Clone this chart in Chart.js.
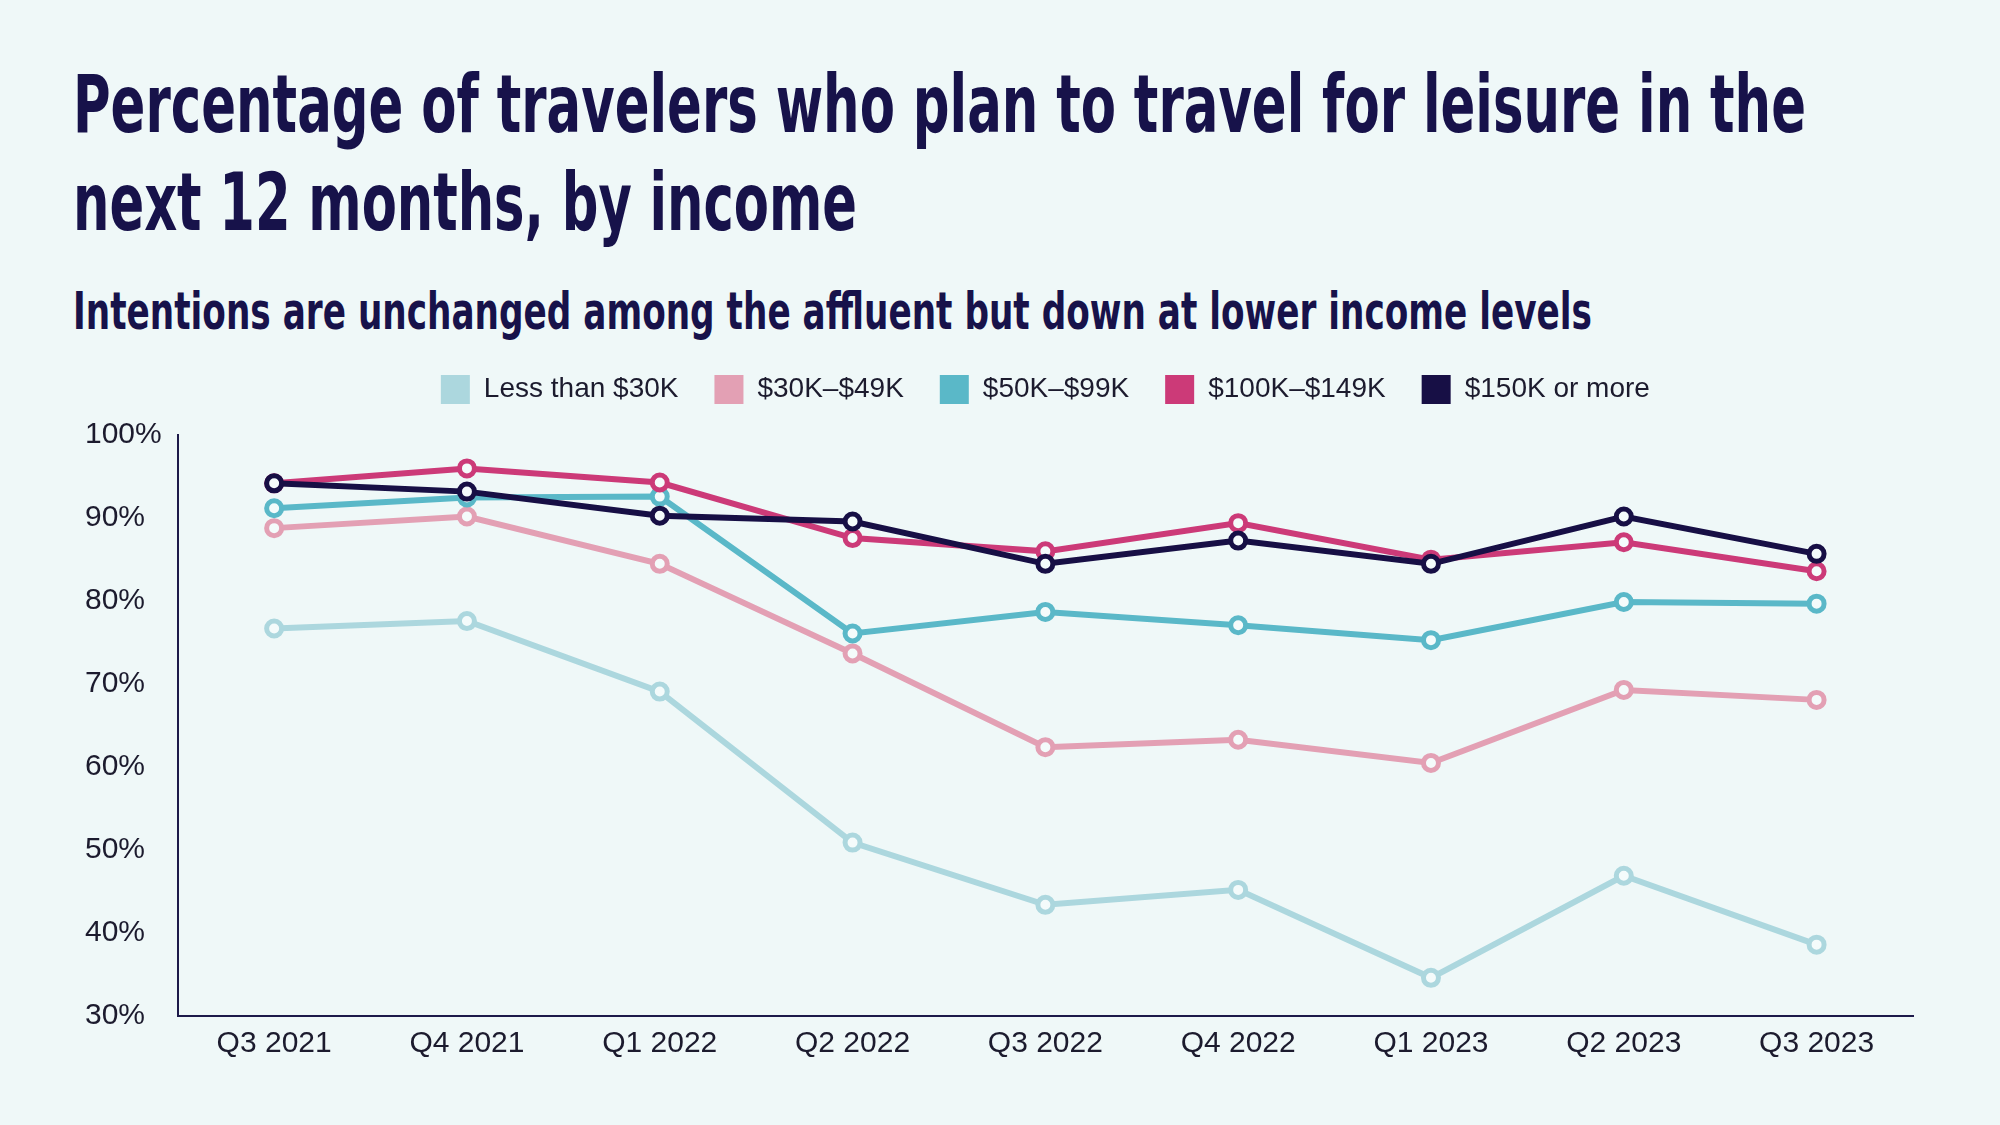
<!DOCTYPE html>
<html>
<head>
<meta charset="utf-8">
<title>Leisure travel intentions by income</title>
<script src="https://cdn.jsdelivr.net/npm/chart.js@4.4.1/dist/chart.umd.min.js"></script>
<style>
  body { margin: 0; background: #eff8f8; }
  #wrap { position: relative; width: 2000px; height: 1125px; overflow: hidden; background: #eff8f8; }
  #chart { position: absolute; left: 0; top: 0; }
  .hd {
    position: absolute; left: 73px; margin: 0; white-space: nowrap;
    color: #17124a; font-weight: bold; line-height: 1;
    font-family: "Liberation Sans Narrow", "DejaVu Sans Condensed", "DejaVu Sans", sans-serif;
    font-stretch: condensed; transform-origin: 0 0;
  }
  #t1 { top: 65px; font-size: 80px; }
  #t2 { top: 163px; font-size: 80px; }
  #sub { top: 285px; font-size: 52px; }
</style>
</head>
<body>
<div id="wrap">
  <h1 class="hd" id="t1">Percentage of travelers who plan to travel for leisure in the</h1>
  <h1 class="hd" id="t2">next 12 months, by income</h1>
  <h2 class="hd" id="sub">Intentions are unchanged among the affluent but down at lower income levels</h2>
  <canvas id="chart" width="2000" height="1125"></canvas>
</div>
<script>
// quarters on the x axis
var quarters = ['Q3 2021', 'Q4 2021', 'Q1 2022', 'Q2 2022', 'Q3 2022', 'Q4 2022', 'Q1 2023', 'Q2 2023', 'Q3 2023'];

// % who plan leisure travel
var lessThan30k = [76.7, 77.6, 69.1, 50.9, 43.4, 45.2, 34.6, 46.9, 38.6];
var from30to49k = [88.8, 90.2, 84.5, 73.7, 62.4, 63.3, 60.5, 69.3, 68.1];
var from50to99k = [91.2, 92.5, 92.6, 76.1, 78.7, 77.1, 75.3, 79.9, 79.7];
var from100to149k = [94.2, 96.0, 94.3, 87.6, 86.0, 89.4, 85.0, 87.1, 83.6];
var over150k = [94.2, 93.2, 90.3, 89.6, 84.5, 87.3, 84.5, 90.2, 85.7];

var seriesNames = ['Less than $30K', '$30K\u2013$49K', '$50K\u2013$99K', '$100K\u2013$149K', '$150K or more'];
var seriesData = [lessThan30k, from30to49k, from50to99k, from100to149k, over150k];
var seriesColors = ['#acd7de', '#e3a0b4', '#5ab8c8', '#cc3a78', '#170f45'];
var drawOrder = [4, 3, 2, 1, 0]; // top income lines drawn on top

var yMin = 30, yMax = 100, yStep = 10;

// squeeze the headings to the width they have in the original
function fitWidth(id, target) {
  var el = document.getElementById(id);
  el.style.transform = 'none';
  var w = el.getBoundingClientRect().width;
  el.style.transform = 'scaleX(' + (target / w) + ')';
}
fitWidth('t1', 1733);
fitWidth('t2', 784);
fitWidth('sub', 1519);

var datasets = [];
for (var i = 0; i < seriesNames.length; i++) {
  datasets.push({
    label: seriesNames[i],
    data: seriesData[i],
    order: drawOrder[i],
    borderColor: seriesColors[i],
    backgroundColor: seriesColors[i],
    borderWidth: 6,
    tension: 0,
    pointRadius: 7.5,
    pointBorderWidth: 5,
    pointBorderColor: seriesColors[i],
    pointBackgroundColor: '#f4fbfb'
  });
}

var tickFont = { family: '"Liberation Sans", Arial, sans-serif', size: 30 };
var inkColor = '#1c1b2e';
var axisColor = '#1d1a4a';

var ctx = document.getElementById('chart').getContext('2d');
var chart = new Chart(ctx, {
  type: 'line',
  data: { labels: quarters, datasets: datasets },
  options: {
    responsive: false,
    animation: false,
    events: [],
    layout: { padding: { top: 339, left: 85, right: 87, bottom: 53 } },
    plugins: {
      tooltip: { enabled: false },
      legend: {
        position: 'top',
        fullSize: false,
        labels: {
          boxWidth: 29,
          boxHeight: 29,
          padding: 36,
          color: inkColor,
          font: { family: '"Liberation Sans", Arial, sans-serif', size: 28 },
          sort: function (a, b) { return a.datasetIndex - b.datasetIndex; },
          generateLabels: function (c) {
            var items = Chart.defaults.plugins.legend.labels.generateLabels(c);
            items.forEach(function (it) { it.lineWidth = 0; });
            return items;
          }
        }
      },
      // empty spacer between legend and plot
      subtitle: {
        display: true,
        text: '',
        position: 'top',
        weight: 500,
        font: { size: 1 },
        padding: { top: 0, bottom: 20 }
      }
    },
    scales: {
      x: {
        offset: true,
        grid: { display: false, drawTicks: false },
        border: { display: true, color: axisColor, width: 2 },
        ticks: { color: inkColor, font: tickFont, padding: 10, maxRotation: 0 }
      },
      y: {
        min: yMin,
        max: yMax,
        grid: { display: false, drawTicks: false },
        border: { display: true, color: axisColor, width: 2 },
        ticks: {
          stepSize: yStep,
          color: inkColor,
          font: tickFont,
          padding: 8,
          crossAlign: 'far',
          callback: function (v) { return v + '%'; }
        }
      }
    }
  }
});
</script>
</body>
</html>
